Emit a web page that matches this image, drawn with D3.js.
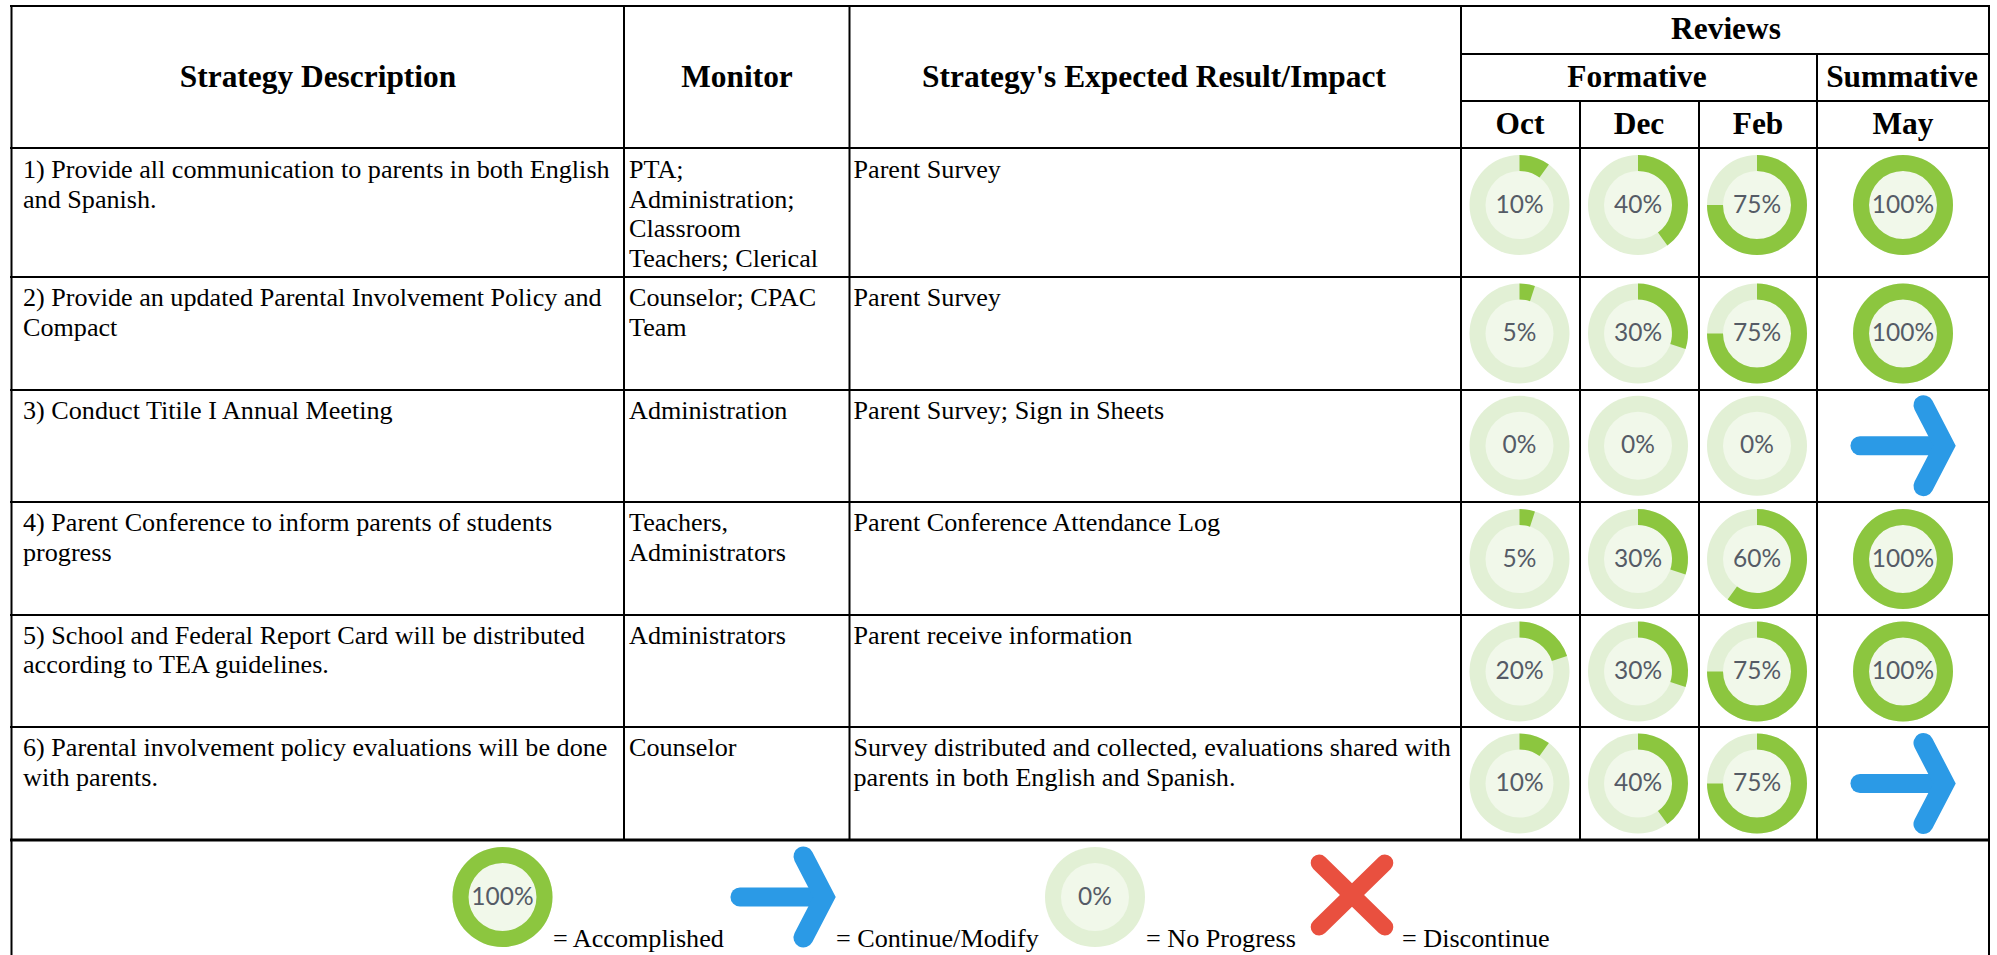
<!DOCTYPE html>
<html><head><meta charset="utf-8">
<script src="https://cdnjs.cloudflare.com/ajax/libs/d3/7.8.5/d3.min.js"></script>
<style>html,body{margin:0;padding:0;background:#fff;overflow:hidden}svg{display:block}</style>
</head><body><svg id="c" width="1997" height="955"></svg>
<script>
// ---------- data ----------
const strategies = [
  ["1) Provide all communication to parents in both English","and Spanish."],
  ["2) Provide an updated Parental Involvement Policy and","Compact"],
  ["3) Conduct Titile I Annual Meeting"],
  ["4) Parent Conference to inform parents of students","progress"],
  ["5) School and Federal Report Card will be distributed","according to TEA guidelines."],
  ["6) Parental involvement policy evaluations will be done","with parents."]
];
const monitors = [
  ["PTA;","Administration;","Classroom","Teachers; Clerical"],
  ["Counselor; CPAC","Team"],
  ["Administration"],
  ["Teachers,","Administrators"],
  ["Administrators"],
  ["Counselor"]
];
const impacts = [
  ["Parent Survey"],
  ["Parent Survey"],
  ["Parent Survey; Sign in Sheets"],
  ["Parent Conference Attendance Log"],
  ["Parent receive information"],
  ["Survey distributed and collected, evaluations shared with","parents in both English and Spanish."]
];
const months = ["Oct","Dec","Feb","May"];
const oct = [10,5,0,5,20,10];
const dec = [40,30,0,30,30,40];
const feb = [75,75,0,60,75,75];
const may = [100,100,"arrow",100,100,"arrow"];
const legendItems = ["= Accomplished","= Continue/Modify","= No Progress","= Discontinue"];

// ---------- layout ----------
const colX = [11.5,624,849.5,1461,1580,1699,1817,1989];
const rowY = [148,277,390,502,615,727,840];
const textY = [178,306,418.5,531,643.5,756];
const iconY = [205,333.5,445.7,559,671.5,783.5];
const iconX = [1519.5,1638,1757,1903];
const svg = d3.select("#c");
const SERIF = "'Liberation Serif','Times New Roman',serif";
const BODY = 26.15, HEAD = 31.4;
const green="#8cc63f", track="#e2f0d5", inner="#f1f8ea", blue="#2b9ae6", red="#e9503f";
const angle = d3.scaleLinear().domain([0,100]).range([0,2*Math.PI]);
const arc = d3.arc().innerRadius(34).outerRadius(50);

function line(x1,y1,x2,y2,w=2){svg.append("line").attr("x1",x1).attr("y1",y1).attr("x2",x2).attr("y2",y2).attr("stroke","#000").attr("stroke-width",w);}
function txt(s,x,y,o={}){return svg.append("text").attr("x",x).attr("y",y).attr("text-anchor",o.a||"start")
  .attr("font-family",o.f||SERIF).attr("font-size",o.s||BODY).attr("font-weight",o.w||"normal").attr("fill",o.c||"#000").text(s);}

function donut(cx,cy,v){
  const g=svg.append("g").attr("transform",`translate(${cx},${cy})`);
  g.append("circle").attr("r",50).attr("fill",track);
  g.append("circle").attr("r",34).attr("fill",inner);
  if(v>0) g.append("path").attr("fill",green).attr("d",arc({startAngle:0,endAngle:angle(v)}));
  g.append("text").attr("text-anchor","middle").attr("y",7.5).attr("font-family","Lato,'Open Sans',sans-serif")
    .attr("font-size",24.5).attr("fill","#555b66").text(v+"%");
}
function arrow(cx,cy){
  const x=d3.scaleLinear().domain([0,1]).range([cx-52.5,cx+52.5]);
  const y=d3.scaleLinear().domain([0,1]).range([cy-50,cy+50]);
  const g=svg.append("g").attr("fill","none").attr("stroke",blue).attr("stroke-linejoin","miter");
  g.append("path").attr("stroke-width",19).attr("stroke-linecap","round").attr("d",d3.line()([[x(.09),y(.5)],[x(.85),y(.5)]]));
  g.append("path").attr("stroke-width",20).attr("stroke-linecap","round").attr("d",d3.line()([[x(.695),y(.095)],[x(.895),y(.5)],[x(.695),y(.905)]]));
}
function cross(cx,cy){
  const x=d3.scaleLinear().domain([0,1]).range([cx-41,cx+41]);
  const y=d3.scaleLinear().domain([0,1]).range([cy-40,cy+40]);
  const g=svg.append("g").attr("stroke",red).attr("stroke-width",17).attr("stroke-linecap","round");
  g.append("path").attr("d",d3.line()([[x(.1),y(.1)],[x(.9),y(.9)]]));
  g.append("path").attr("d",d3.line()([[x(.9),y(.1)],[x(.1),y(.9)]]));
}

// ---------- grid ----------
line(10,6,1990,6,2);
line(colX[0],5,colX[0],955,2);
line(colX[7],5,colX[7],955,2);
[1,2].forEach(i=>line(colX[i],5,colX[i],840,2));
line(colX[3],5,colX[3],840,2);
line(colX[6],53,colX[6],840,2);
[4,5].forEach(i=>line(colX[i],101,colX[i],840,2));
line(colX[3],54,1989,54,2);
line(colX[3],101,1989,101,2);
rowY.forEach((y,i)=>line(10,y,1990,y,i==6?3:2));

// ---------- header ----------
const H={s:HEAD,w:"bold",a:"middle"};
txt("Strategy Description",318,87,H);
txt("Monitor",737,87,H);
txt("Strategy's Expected Result/Impact",1154,87,H);
txt("Reviews",1726,39,H);
txt("Formative",1637,87,H);
txt("Summative",1902,87,H);
months.forEach((m,i)=>txt(m,[1520,1639,1758,1903][i],134,H));

// ---------- rows ----------
const LH=29.5;
strategies.forEach((ls,r)=>{
  ls.forEach((l,i)=>txt(l,23,textY[r]+i*LH));
  monitors[r].forEach((l,i)=>txt(l,629,textY[r]+i*LH));
  impacts[r].forEach((l,i)=>txt(l,853.5,textY[r]+i*LH));
  [oct,dec,feb,may].forEach((s,c)=>{
    if(s[r]==="arrow") arrow(iconX[c],iconY[r]); else donut(iconX[c],iconY[r],s[r]);
  });
});

// ---------- legend ----------
donut(502.5,897,100);
arrow(783,897);
donut(1095,897,0);
cross(1352,895);
[553,836,1146,1402].forEach((x,i)=>txt(legendItems[i],x,947));
</script></body></html>
